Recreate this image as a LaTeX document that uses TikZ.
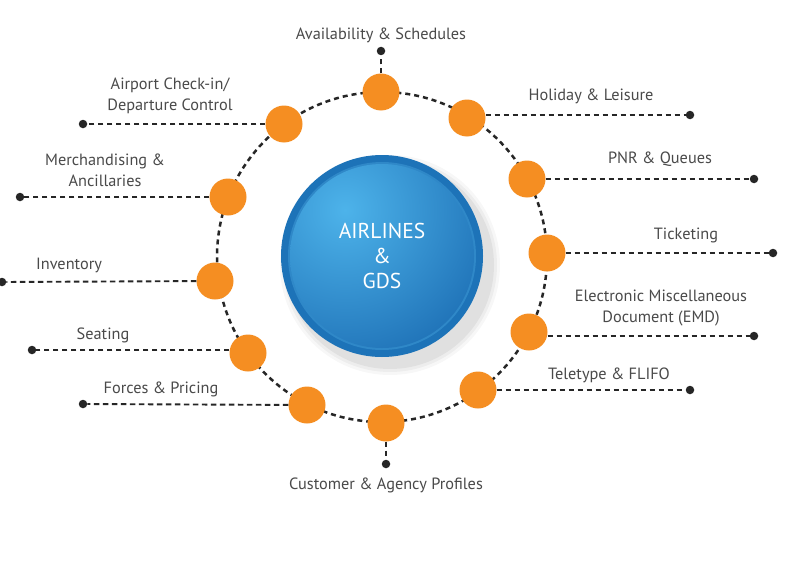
\documentclass[tikz,border=0pt]{standalone}
\usepackage{fontspec}
\setmainfont{PT Sans}
\begin{document}
\begin{tikzpicture}[x=1pt,y=-1pt,
  orb/.style={circle,fill=orng,minimum size=37pt,inner sep=0pt},
  enddot/.style={circle,fill=dotc,minimum size=8.5pt,inner sep=0pt},
  lbl/.style={text=txtc,font=\fontsize{16.3}{21}\selectfont,align=center,inner sep=0pt},
  ring/.style={draw=dotc,line width=2.5pt,dash pattern=on 5pt off 4pt},
  spoke/.style={draw=dotc,line width=1.9pt,dash pattern=on 5.5pt off 3.5pt}]
\definecolor{orng}{HTML}{F58E22}
\definecolor{dotc}{HTML}{262626}
\definecolor{txtc}{HTML}{4A4A4A}
\definecolor{rimc}{HTML}{1D73B8}
\definecolor{innerlight}{HTML}{4DB3EA}
\definecolor{innerdark}{HTML}{1665AD}
\useasboundingbox (0,0) rectangle (800,578);
\fill[white] (0,0) rectangle (800,578);
% dashed ring
\draw[ring] (382,257) circle[radius=165];
% centre
\foreach \o/\r in {0.03/110,0.04/107,0.05/104}
  \fill[black,opacity=\o] (390,265) circle[radius=\r];
\fill[rimc] (382,256) circle[radius=101];
\fill[innerlight!45!innerdark] (382,256) circle[radius=94];
\begin{scope}
  \clip (382,256) circle[radius=92];
  \shade[inner color=innerlight,outer color=innerdark] (345,210) circle[radius=190];
\end{scope}
\node[circle,minimum size=202pt,inner sep=0pt] (hub) at (382,256) {};
\node[text=white,font=\fontsize{21.5}{25}\selectfont,align=center] (hubtxt) at (382,256) {AIRLINES\\\&\\GDS};
% orange nodes
\node[orb] (c1) at (381,92) {};
\node[orb] (c2) at (467,118) {};
\node[orb] (c3) at (527,179) {};
\node[orb] (c4) at (547,253) {};
\node[orb] (c5) at (529,332) {};
\node[orb] (c6) at (478,390) {};
\node[orb] (c7) at (386,423) {};
\node[orb] (c8) at (307,405) {};
\node[orb] (c9) at (248,353) {};
\node[orb] (c10) at (215,281) {};
\node[orb] (c11) at (228,197) {};
\node[orb] (c12) at (284,124) {};
% end dots
\node[enddot] (d1) at (381,51) {};
\node[enddot] (d2) at (690,115) {};
\node[enddot] (d3) at (754,179) {};
\node[enddot] (d4) at (773,253) {};
\node[enddot] (d5) at (754,336) {};
\node[enddot] (d6) at (690,390) {};
\node[enddot] (d7) at (386,464) {};
\node[enddot] (d8) at (83,404) {};
\node[enddot] (d9) at (32,350) {};
\node[enddot] (d10) at (2,282) {};
\node[enddot] (d11) at (20,197) {};
\node[enddot] (d12) at (83,124) {};
% spokes
\draw[spoke] (c1) -- (d1);
\draw[spoke] (c2.east |- d2) -- (d2);
\draw[spoke] (c3) -- (d3);
\draw[spoke] (c4) -- (d4);
\draw[spoke] (c5.east |- d5) -- (d5);
\draw[spoke] (c6) -- (d6);
\draw[spoke] (c7) -- (d7);
\draw[spoke] (c8) -- (d8);
\draw[spoke] (c9.west |- d9) -- (d9);
\draw[spoke] (c10) -- (d10);
\draw[spoke] (c11) -- (d11);
\draw[spoke] (c12) -- (d12);
% labels
\node[lbl] (l1) at (381,35) {Availability \& Schedules};
\node[lbl] (l2) at (591,96) {Holiday \& Leisure};
\node[lbl] (l3) at (660,159) {PNR \& Queues};
\node[lbl] (l4) at (686,235) {Ticketing};
\node[lbl] (l5) at (661,308) {Electronic Miscellaneous\\Document (EMD)};
\node[lbl] (l6) at (609,375) {Teletype \& FLIFO};
\node[lbl] (l7) at (386,485) {Customer \& Agency Profiles};
\node[lbl] (l8) at (161,389) {Forces \& Pricing};
\node[lbl] (l9) at (103,335) {Seating};
\node[lbl] (l10) at (69,265) {Inventory};
\node[lbl] (l11) at (105,170) {Merchandising \&\\Ancillaries};
\node[lbl] (l12) at (170,96) {Airport Check-in/\\Departure Control};
\end{tikzpicture}
\end{document}
